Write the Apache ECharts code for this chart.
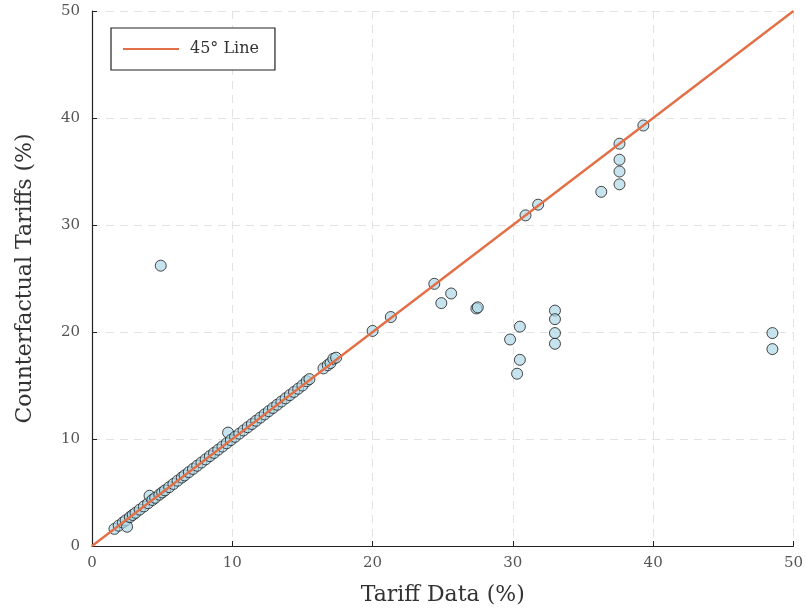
<!DOCTYPE html>
<html>
<head>
<meta charset="utf-8">
<script src="https://cdn.jsdelivr.net/npm/echarts@6/dist/echarts.min.js"></script>
<style>html,body{margin:0;padding:0;background:#fff;}#c{width:806px;height:611px;}</style>
</head>
<body>
<div id="c"></div>
<script>
// Tariff data (%) and counterfactual tariffs (%)
const tariffData = [
  1.6, 1.9, 2.2, 2.4, 2.5, 2.7, 2.9, 3.1, 3.4, 3.7, 4.0, 4.1, 4.3, 4.5, 4.8, 5.0, 5.2, 5.5, 5.8, 6.1,
  6.4, 6.6, 6.9, 7.2, 7.5, 7.8, 8.1, 8.4, 8.7, 9.0, 9.3, 9.6, 9.7, 9.9, 10.2, 10.5, 10.8, 11.1, 11.4, 11.7,
  12.0, 12.3, 12.6, 12.9, 13.2, 13.5, 13.8, 14.1, 14.4, 14.7, 15.0, 15.3, 15.5, 16.5, 16.8, 17.0, 17.2, 17.4,
  20.0, 21.3, 4.9, 24.4, 25.6, 24.9, 27.4, 27.5, 30.5, 29.8, 30.5, 30.3, 33.0, 33.0, 33.0, 33.0,
  30.9, 31.8, 36.3, 37.6, 37.6, 37.6, 37.6, 39.3, 48.5, 48.5
];
const counterfactual = [
  1.6, 1.9, 2.2, 2.4, 1.8, 2.7, 2.9, 3.1, 3.4, 3.7, 4.0, 4.7, 4.3, 4.5, 4.8, 5.0, 5.2, 5.5, 5.8, 6.1,
  6.4, 6.6, 6.9, 7.2, 7.5, 7.8, 8.1, 8.4, 8.7, 9.0, 9.3, 9.6, 10.6, 9.9, 10.2, 10.5, 10.8, 11.1, 11.4, 11.7,
  12.0, 12.3, 12.6, 12.9, 13.2, 13.5, 13.8, 14.1, 14.4, 14.7, 15.0, 15.4, 15.6, 16.6, 16.9, 17.1, 17.5, 17.6,
  20.1, 21.4, 26.2, 24.5, 23.6, 22.7, 22.2, 22.3, 20.5, 19.3, 17.4, 16.1, 22.0, 21.2, 19.9, 18.9,
  30.9, 31.9, 33.1, 37.6, 36.1, 35.0, 33.8, 39.3, 19.9, 18.4
];
const lineX = [0, 50];
const lineY = [0, 50];
const xTicks = [0, 10, 20, 30, 40, 50];
const yTicks = [0, 10, 20, 30, 40, 50];
const xName = 'Tariff Data (%)';
const yName = 'Counterfactual Tariffs (%)';
const lineName = '45° Line';

const serif = '"DejaVu Serif", "Liberation Serif", serif';
const pts = tariffData.map((x, i) => [x, counterfactual[i]]);
const linePts = lineX.map((x, i) => [x, lineY[i]]);

const axisCommon = {
  min: 0, max: 50, interval: 10,
  axisLine: { show: true, lineStyle: { color: '#222', width: 1.2 } },
  axisTick: { show: true, inside: true, length: 5, lineStyle: { color: '#222' } },
  splitLine: { show: true, lineStyle: { color: '#e2e2e2', type: [8, 6], width: 1 } },
  axisLabel: { fontFamily: serif, fontSize: 15, color: '#555' },
  nameLocation: 'middle',
  nameTextStyle: { fontFamily: serif, fontSize: 22, color: '#333' }
};

const chart = echarts.init(document.getElementById('c'));
chart.setOption({
  animation: false,
  backgroundColor: '#fff',
  grid: { left: 92, right: 11, top: 11, bottom: 65, containLabel: false },
  xAxis: Object.assign({}, axisCommon, {
    type: 'value', name: xName, nameGap: 38,
    axisLabel: Object.assign({}, axisCommon.axisLabel, { margin: 10, formatter: v => xTicks.includes(v) ? String(v) : '' })
  }),
  yAxis: Object.assign({}, axisCommon, {
    type: 'value', name: yName, nameGap: 56,
    axisLabel: Object.assign({}, axisCommon.axisLabel, { margin: 12, formatter: v => yTicks.includes(v) ? String(v) : '' })
  }),
  legend: {
    left: 111, top: 28, orient: 'vertical',
    padding: [13, 16, 13, 12],
    borderColor: '#222', borderWidth: 1.2, backgroundColor: '#fff',
    itemWidth: 56, itemHeight: 2, itemGap: 8,
    textStyle: { fontFamily: serif, fontSize: 16, color: '#333', padding: [0, 0, 0, 6] },
    data: [{ name: lineName, icon: 'rect' }]
  },
  series: [
    {
      type: 'scatter', name: 'data', data: pts, symbolSize: 11, z: 2,
      itemStyle: { color: 'rgba(173,216,230,0.85)', borderColor: '#1a1a1a', borderWidth: 1 }
    },
    {
      type: 'line', name: lineName, data: linePts, symbol: 'none', z: 3,
      lineStyle: { color: '#e26f46', width: 2.4 }, itemStyle: { color: '#e26f46' }
    }
  ]
});
</script>
</body>
</html>
